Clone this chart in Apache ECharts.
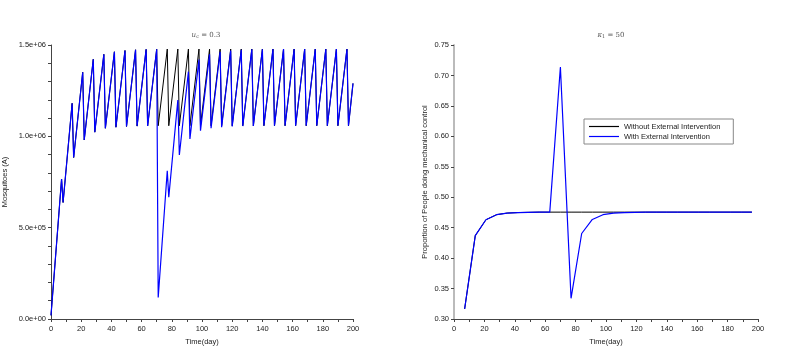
<!DOCTYPE html>
<html><head><meta charset="utf-8">
<script src="https://cdn.jsdelivr.net/npm/echarts@6/dist/echarts.min.js"></script>
<style>html,body{margin:0;padding:0;background:#fff}#c{width:809px;height:364px}</style>
</head><body><div id="c"></div>
<script>
// ---- Left panel: Mosquitoes (A) ----
const mosqDays = [0,7,8,14,15,21,22,28,29,35,36,42,43,49,50,56,57,63,64,70,71,77,78,84,85,91,92,98,99,105,106,112,113,119,120,126,127,133,134,140,141,147,148,154,155,161,162,168,169,175,176,182,183,189,190,196,197,200];
const mosqWithout = [2e4,7.66e5,6.38e5,1.181e6,8.84e5,1.351e6,9.80e5,1.422e6,1.023e6,1.449e6,1.044e6,1.463e6,1.050e6,1.470e6,1.054e6,1.474e6,1.056e6,1.476e6,1.057e6,1.477e6,1.058e6,
  1.478e6,1.058e6,1.478e6,1.058e6,1.478e6,1.058e6,1.478e6,1.058e6,1.478e6,1.058e6,1.478e6,1.058e6,1.478e6,1.058e6,1.478e6,1.058e6,1.478e6,1.058e6,
  1.478e6,1.058e6,1.478e6,1.058e6,1.478e6,1.058e6,1.478e6,1.058e6,1.478e6,1.058e6,1.478e6,1.058e6,1.478e6,1.058e6,1.478e6,1.058e6,1.478e6,1.058e6,1.29e6];
const mosqWith = [2e4,7.66e5,6.38e5,1.181e6,8.84e5,1.351e6,9.80e5,1.422e6,1.023e6,1.449e6,1.044e6,1.463e6,1.050e6,1.470e6,1.054e6,1.474e6,1.056e6,1.476e6,1.057e6,1.477e6,1.18e5,
  8.12e5,6.67e5,1.199e6,8.98e5,1.354e6,9.86e5,1.420e6,1.031e6,1.449e6,1.044e6,1.463e6,1.050e6,1.470e6,1.054e6,1.474e6,1.056e6,1.476e6,1.057e6,1.477e6,1.058e6,
  1.478e6,1.058e6,1.478e6,1.058e6,1.478e6,1.058e6,1.478e6,1.058e6,1.478e6,1.058e6,1.478e6,1.058e6,1.478e6,1.058e6,1.478e6,1.058e6,1.29e6];
const mosqTickLabels = ['0.0e+00','5.0e+05','1.0e+06','1.5e+06'];

// ---- Right panel: proportion doing mechanical control ----
const propDays = [7,14,21,28,35,42,49,56,63,70,77,84,91,98,105,112,119,126,133,140,147,154,161,168,175,182,189,196];
const propWithout = [0.3165,0.437,0.463,0.4713,0.474,0.4748,0.4752,0.4755,0.4755,0.4755,0.4755,0.4755,0.4755,0.4755,0.4755,0.4755,0.4755,0.4755,0.4755,0.4755,0.4755,0.4755,0.4755,0.4755,0.4755,0.4755,0.4755,0.4755];
const propWith = [0.3165,0.437,0.463,0.4713,0.474,0.4748,0.4752,0.4755,0.4755,0.714,0.334,0.4404,0.4635,0.4713,0.474,0.4748,0.4752,0.4755,0.4755,0.4755,0.4755,0.4755,0.4755,0.4755,0.4755,0.4755,0.4755,0.4755];
const propTickLabels = ['0.30','0.35','0.40','0.45','0.50','0.55','0.60','0.65','0.70','0.75'];

const seriesNames = ['Without External Intervention','With External Intervention'];

const F = 'Liberation Sans, Arial, sans-serif';
const FS = 7.5;
const zip = (xs, ys) => xs.map((x, i) => [x, ys[i]]);

const chart = echarts.init(document.getElementById('c'), null, {renderer: 'canvas'});

function xAxisCfg(gridIndex) {
  return {
    type: 'value', gridIndex, min: 0, max: 200, interval: 20,
    name: 'Time(day)', nameLocation: 'middle', nameGap: 17,
    nameTextStyle: {fontFamily: F, fontSize: FS, color: '#222'},
    axisLine: {show: true, onZero: false, lineStyle: {color: '#444', width: 1}},
    axisTick: {show: true, length: 3, lineStyle: {color: '#444'}},
    minorTick: {show: true, splitNumber: 2, length: 3, lineStyle: {color: '#444'}},
    axisLabel: {fontFamily: F, fontSize: FS, color: '#222', margin: 6},
    splitLine: {show: false}
  };
}

const titleRich = {
  i: {fontFamily: 'DejaVu Serif', fontStyle: 'italic', fontWeight: 'normal', fontSize: 7, color: '#555'},
  s: {fontFamily: 'DejaVu Serif', fontWeight: 'normal', fontSize: 5, color: '#555', verticalAlign: 'bottom', padding: [3,0,0,0]},
  n: {fontFamily: 'DejaVu Serif', fontWeight: 'normal', fontSize: 7, color: '#555'}
};

const option = {
  backgroundColor: '#fff',
  animation: false,
  title: [
    {text: '{i|u}{s|c}{n| = 0.3}', left: 201, top: 26, textAlign: 'center',
     textStyle: {fontWeight: 'normal', rich: titleRich}},
    {text: '{i|κ}{s|1}{n| = 50}', left: 606, top: 26, textAlign: 'center',
     textStyle: {fontWeight: 'normal', rich: titleRich}}
  ],
  legend: {
    data: [{name: seriesNames[0], icon: 'rect', itemStyle: {color: '#000'}},
           {name: seriesNames[1], icon: 'rect', itemStyle: {color: '#0000ff'}}],
    orient: 'vertical', left: 584, top: 119,
    padding: [3, 13, 3, 5], itemGap: 1, itemWidth: 30, itemHeight: 1.2,
    borderColor: '#888', borderWidth: 1, borderRadius: 0,
    textStyle: {fontFamily: F, fontSize: FS, color: '#222', lineHeight: 9}
  },
  grid: [
    {left: 50, right: 456, top: 45, bottom: 45, containLabel: false},
    {left: 454, right: 51, top: 45, bottom: 45, containLabel: false}
  ],
  xAxis: [xAxisCfg(0), xAxisCfg(1)],
  yAxis: [
    {type: 'value', gridIndex: 0, min: 0, max: 1500000, interval: 500000,
     name: 'Mosquitoes (A)', nameLocation: 'middle', nameGap: 42,
     nameTextStyle: {fontFamily: F, fontSize: FS, color: '#222'},
     axisLine: {show: true, lineStyle: {color: '#444', width: 1}},
     axisTick: {show: true, length: 3, lineStyle: {color: '#444'}},
     minorTick: {show: true, splitNumber: 5, length: 3, lineStyle: {color: '#444'}},
     axisLabel: {fontFamily: F, fontSize: FS, color: '#222', margin: 5,
       formatter: (v, i) => mosqTickLabels[i]},
     splitLine: {show: false}},
    {type: 'value', gridIndex: 1, min: 0.30, max: 0.75, interval: 0.05,
     name: 'Proportion of People doing mechanical control', nameLocation: 'middle', nameGap: 25,
     nameTextStyle: {fontFamily: F, fontSize: FS, color: '#222'},
     axisLine: {show: true, lineStyle: {color: '#bbb', width: 2}},
     axisTick: {show: true, length: 3, lineStyle: {color: '#444'}},
     axisLabel: {fontFamily: F, fontSize: FS, color: '#222', margin: 5,
       formatter: (v, i) => propTickLabels[i]},
     splitLine: {show: false}}
  ],
  series: [
    {name: seriesNames[0], type: 'line', xAxisIndex: 0, yAxisIndex: 0, data: zip(mosqDays, mosqWithout),
     symbol: 'none', lineStyle: {color: '#000', width: 1}, itemStyle: {color: '#000'}},
    {name: seriesNames[1], type: 'line', xAxisIndex: 0, yAxisIndex: 0, data: zip(mosqDays, mosqWith),
     symbol: 'none', lineStyle: {color: '#0000ff', width: 1.2}, itemStyle: {color: '#0000ff'}},
    {name: seriesNames[0], type: 'line', xAxisIndex: 1, yAxisIndex: 1, data: zip(propDays, propWithout),
     symbol: 'none', lineStyle: {color: '#000', width: 1}, itemStyle: {color: '#000'}},
    {name: seriesNames[1], type: 'line', xAxisIndex: 1, yAxisIndex: 1, data: zip(propDays, propWith),
     symbol: 'none', lineStyle: {color: '#0000ff', width: 1.2}, itemStyle: {color: '#0000ff'}}
  ]
};
chart.setOption(option);
</script>
</body></html>
